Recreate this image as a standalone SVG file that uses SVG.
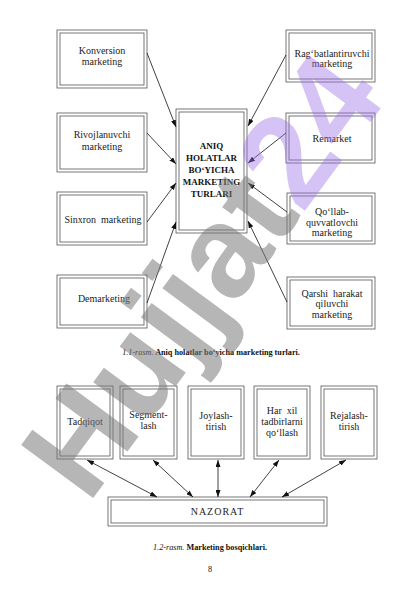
<svg xmlns="http://www.w3.org/2000/svg" width="420" height="595" viewBox="0 0 420 595">
<defs>
<marker id="ah" viewBox="0 0 7 5" refX="7" refY="2.5" markerWidth="7" markerHeight="5" markerUnits="userSpaceOnUse" orient="auto-start-reverse">
<path d="M0,0 L7,2.5 L0,5 z" fill="#111"/>
</marker>
<style>
.o{fill:#fff;stroke:#555;stroke-width:0.8}
.i{fill:none;stroke:#555;stroke-width:0.8}
.t{font-family:"Liberation Serif","Times New Roman",serif;font-size:10px;fill:#222;text-anchor:middle}
.b{font-family:"Liberation Serif","Times New Roman",serif;font-size:9px;font-weight:bold;fill:#111;text-anchor:middle}
.c{font-family:"Liberation Serif","Times New Roman",serif;font-size:8.2px;fill:#111;text-anchor:middle}
.a{stroke:#111;stroke-width:0.8;fill:none;marker-end:url(#ah)}
.d{stroke:#111;stroke-width:0.8;fill:none;marker-start:url(#ah);marker-end:url(#ah)}
</style>
</defs>
<rect width="420" height="595" fill="#fff"/>

<g id="konversion"><rect class="o" x="57" y="30" width="90" height="58"/><rect class="i" x="60" y="33" width="84" height="52"/>
<text class="t" x="102" y="54">Konversion</text><text class="t" x="102" y="65">marketing</text></g>
<g id="rivojlanuvchi"><rect class="o" x="57" y="113" width="90" height="59"/><rect class="i" x="60" y="116" width="84" height="53"/>
<text class="t" x="102" y="138">Rivojlanuvchi</text><text class="t" x="102" y="149.5">marketing</text></g>
<g id="sinxron"><rect class="o" x="57" y="192" width="90" height="53"/><rect class="i" x="60" y="195" width="84" height="47"/>
<text class="t" x="103" y="223" xml:space="preserve">Sinxron  marketing</text></g>
<g id="demarketing"><rect class="o" x="57" y="275" width="90" height="53"/><rect class="i" x="60" y="278" width="84" height="47"/>
<text class="t" x="104" y="301.5">Demarketing</text></g>

<g id="markaz"><rect class="o" x="176" y="109" width="71" height="124"/><rect class="i" x="179" y="112" width="65" height="118"/>
<text class="b" x="211.5" y="148.5">ANIQ</text><text class="b" x="211.5" y="160.5">HOLATLAR</text><text class="b" x="211.5" y="172.5">BO‘YICHA</text><text class="b" x="211.5" y="184.5">MARKETING</text><text class="b" x="211.5" y="196.5">TURLARI</text></g>

<g id="ragbatlantiruvchi"><rect class="o" x="286" y="30" width="89" height="52"/><rect class="i" x="289" y="33" width="83" height="46"/>
<text class="t" x="332" y="56.5">Rag‘batlantiruvchi</text><text class="t" x="332" y="67">marketing</text></g>
<g id="remarket"><rect class="o" x="286" y="113" width="89" height="50"/><rect class="i" x="289" y="116" width="83" height="44"/>
<text class="t" x="332" y="141.5">Remarket</text></g>
<g id="qollab"><rect class="o" x="287" y="193" width="88" height="51"/><rect class="i" x="290" y="196" width="82" height="45"/>
<text class="t" x="332" y="215">Qo‘llab-</text><text class="t" x="332" y="225.5">quvvatlovchi</text><text class="t" x="332" y="236">marketing</text></g>
<g id="qarshi"><rect class="o" x="287" y="277" width="88" height="52"/><rect class="i" x="290" y="280" width="82" height="46"/>
<text class="t" x="332" y="296.5" xml:space="preserve">Qarshi  harakat</text><text class="t" x="332" y="307">qiluvchi</text><text class="t" x="332" y="318">marketing</text></g>

<text class="c" x="211" y="355"><tspan font-style="italic">1.1-rasm.</tspan><tspan font-weight="bold"> Aniq holatlar bo‘yicha marketing turlari.</tspan></text>

<g id="tadqiqot"><rect class="o" x="57" y="386" width="56" height="73"/><rect class="i" x="60" y="389" width="50" height="67"/>
<text class="t" x="85" y="425">Tadqiqot</text></g>
<g id="segmentlash"><rect class="o" x="120" y="386" width="57" height="73"/><rect class="i" x="123" y="389" width="51" height="67"/>
<text class="t" x="148.5" y="418">Segment-</text><text class="t" x="148.5" y="428.5">lash</text></g>
<g id="joylashtirish"><rect class="o" x="188" y="386" width="56" height="73"/><rect class="i" x="191" y="389" width="50" height="67"/>
<text class="t" x="216" y="419">Joylash-</text><text class="t" x="216" y="430">tirish</text></g>
<g id="harxil"><rect class="o" x="254" y="386" width="56" height="73"/><rect class="i" x="257" y="389" width="50" height="67"/>
<text class="t" x="282" y="414" xml:space="preserve">Har  xil</text><text class="t" x="282" y="425">tadbirlarni</text><text class="t" x="282" y="436">qo‘llash</text></g>
<g id="rejalashtirish"><rect class="o" x="321" y="386" width="56" height="73"/><rect class="i" x="324" y="389" width="50" height="67"/>
<text class="t" x="349" y="419">Rejalash-</text><text class="t" x="349" y="430">tirish</text></g>
<g id="nazorat"><rect class="o" x="108" y="497" width="219" height="29"/><rect class="i" x="111" y="500" width="213" height="23"/>
<text class="t" x="217.5" y="514.5" letter-spacing="1">NAZORAT</text></g>

<g id="connectors">
<line class="a" x1="147" y1="53" x2="176" y2="127"/>
<line class="a" x1="147" y1="133" x2="176" y2="164"/>
<line class="a" x1="147" y1="222" x2="176" y2="183"/>
<line class="a" x1="147" y1="303" x2="176" y2="222"/>
<line class="a" x1="286" y1="55" x2="248" y2="126"/>
<line class="a" x1="286" y1="133" x2="248" y2="163"/>
<line class="a" x1="287" y1="212" x2="248" y2="183"/>
<line class="a" x1="287" y1="302" x2="248" y2="221"/>
<line class="d" x1="87" y1="460" x2="157" y2="497"/>
<line class="d" x1="153" y1="460" x2="193" y2="497"/>
<line class="d" x1="218" y1="460" x2="218" y2="497"/>
<line class="d" x1="279" y1="460" x2="250" y2="497"/>
<line class="d" x1="346" y1="460" x2="282" y2="497"/>
</g>

<text class="c" x="210" y="550"><tspan font-style="italic">1.2-rasm.</tspan><tspan font-weight="bold"> Marketing bosqichlari.</tspan></text>
<text class="c" x="210" y="572">8</text>

<g id="watermark" transform="translate(88,505) rotate(-53.6)">
<text x="0" y="0" font-family="Liberation Sans, Arial, sans-serif" font-weight="bold" font-size="130"><tspan fill="#7a7a7a" fill-opacity="0.55">Hujjat</tspan><tspan fill="#9a70ea" fill-opacity="0.42">24</tspan></text>
</g>
</svg>
